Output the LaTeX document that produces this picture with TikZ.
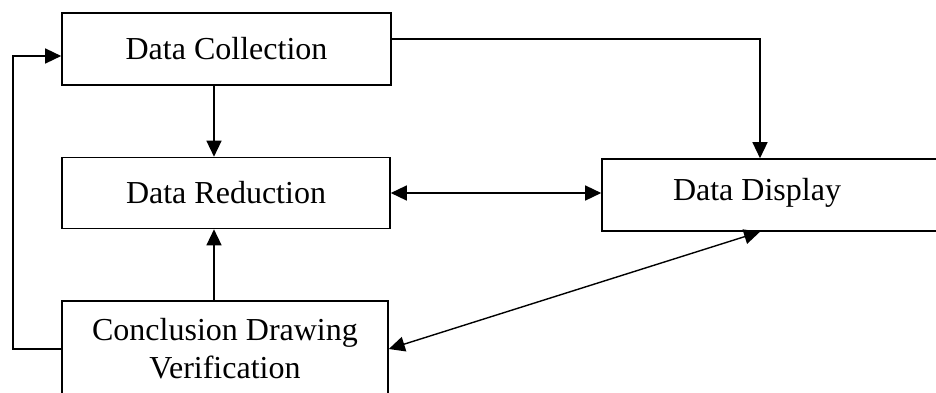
\documentclass[tikz,border=0pt]{standalone}
\usepackage{fontspec}
\setmainfont{Liberation Serif}
\usetikzlibrary{arrows.meta}
\begin{document}
\begin{tikzpicture}[x=1pt,y=-1pt,
  box/.style={draw,line width=1.6pt,rectangle,inner sep=0pt,align=center,
    font=\fontsize{32}{38}\selectfont},
  lbl/.style={inner sep=0pt,font=\fontsize{32}{38}\selectfont},
  arr/.style={line width=1.4pt,-{Triangle[length=16pt,width=15pt]}},
  darr/.style={line width=1.4pt,{Triangle[length=16pt,width=15pt]}-{Triangle[length=16pt,width=15pt]}}]
\useasboundingbox (0,0) rectangle (936,393);
\clip (0,0) rectangle (936,393);
\node[box,minimum width=329pt,minimum height=72pt] (dc) at (226.5,49) {Data Collection};
\node[box,minimum width=328pt,minimum height=71pt] (dr) at (226,193) {Data Reduction};
\node[box,minimum width=358pt,minimum height=72pt] (dd) at (781,195) {};
\node[lbl] (ddt) at (757,193) {Data Display};
\node[box,minimum width=326pt,minimum height=96pt] (cd) at (225,349) {Conclusion Drawing\\Verification};
\coordinate (xa) at (214,0);
\coordinate (xb) at (760,0);
\coordinate (yc) at (0,39);
\coordinate (fb) at (13,56);
\draw[arr] (dc.south -| xa) -- (dr.north -| xa);
\draw[arr] (cd.north -| xa) -- (dr.south -| xa);
\draw[darr] (dr.east) -- (dr.east -| dd.west);
\draw[arr] (dc.east |- yc) -| (dd.north -| xb);
\draw[darr] (cd.east) -- (dd.south -| xb);
\draw[arr] (cd.west) -| (fb) -- (fb -| dc.west);
\end{tikzpicture}
\end{document}
